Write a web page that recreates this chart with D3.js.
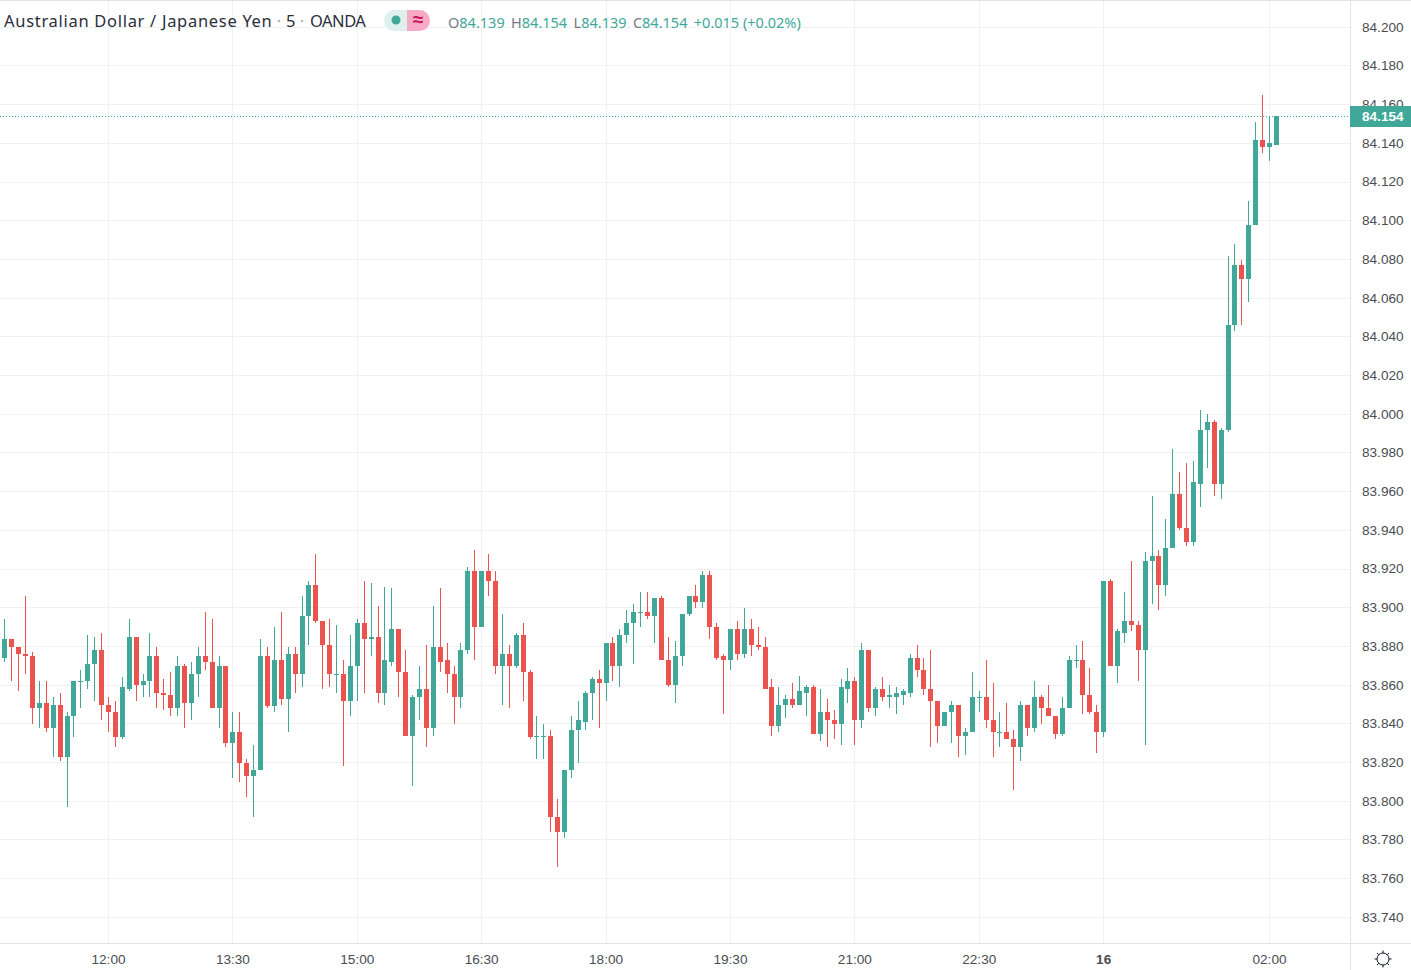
<!DOCTYPE html>
<html>
<head>
<meta charset="utf-8">
<script src="https://d3js.org/d3.v7.min.js"></script>
<style>
    html, body { margin: 0; padding: 0; background: #fff; }
    svg { display: block; }
    text { font-family: "Liberation Sans", Arial, sans-serif; }
</style>
</head>
<body>
<svg id="chart" width="1411" height="970"></svg>
<script>
// -------------------- DATA -------------------- //
const opens = [
    83.882,83.874,83.884,83.880,83.876,83.875,83.848,83.851,83.838,83.850,83.823,83.844,83.862,83.862,83.871,83.878,83.850,83.846,83.833,83.858,
    83.885,83.860,83.862,83.875,83.856,83.855,83.848,83.870,83.851,83.866,83.875,83.872,83.848,83.870,83.830,83.836,83.820,83.813,83.816,83.875,
    83.849,83.873,83.853,83.876,83.866,83.896,83.912,83.893,83.881,83.866,83.866,83.852,83.870,83.892,83.884,83.885,83.856,83.872,83.889,83.867,
    83.834,83.854,83.858,83.838,83.880,83.873,83.866,83.854,83.878,83.919,83.890,83.919,83.914,83.870,83.876,83.870,83.886,83.867,83.833,83.834,
    83.834,83.792,83.784,83.816,83.837,83.841,83.856,83.863,83.861,83.882,83.870,83.886,83.892,83.898,83.898,83.896,83.905,83.873,83.860,83.875,
    83.897,83.906,83.903,83.917,83.890,83.875,83.873,83.889,83.876,83.889,83.881,83.880,83.859,83.839,83.850,83.853,83.850,83.856,83.859,83.835,
    83.846,83.842,83.840,83.858,83.862,83.842,83.878,83.848,83.858,83.854,83.854,83.855,83.856,83.874,83.868,83.858,83.852,83.839,83.846,83.850,
    83.834,83.836,83.854,83.854,83.842,83.836,83.836,83.832,83.828,83.850,83.838,83.854,83.848,83.844,83.835,83.848,83.873,83.873,83.855,83.846,
    83.836,83.914,83.870,83.887,83.893,83.891,83.878,83.924,83.927,83.912,83.931,83.959,83.941,83.934,83.964,83.992,83.996,83.964,83.992,84.046,
    84.077,84.070,84.098,84.142,84.138,84.139
];
const highs = [
    83.882,83.894,83.884,83.880,83.906,83.877,83.862,83.862,83.854,83.856,83.846,83.862,83.868,83.886,83.885,83.887,83.854,83.852,83.864,83.894,
    83.885,83.866,83.887,83.880,83.863,83.867,83.875,83.871,83.872,83.880,83.898,83.894,83.875,83.870,83.846,83.846,83.822,83.829,83.884,83.880,
    83.890,83.898,83.880,83.880,83.906,83.914,83.928,83.893,83.894,83.891,83.873,83.886,83.894,83.914,83.913,83.901,83.911,83.910,83.889,83.878,
    83.855,83.870,83.881,83.901,83.910,83.882,83.870,83.882,83.921,83.930,83.919,83.928,83.919,83.897,83.881,83.887,83.892,83.868,83.844,83.840,
    83.837,83.801,83.816,83.844,83.852,83.857,83.864,83.868,83.882,83.885,83.889,83.899,83.902,83.908,83.908,83.905,83.906,83.885,83.883,83.897,
    83.906,83.912,83.919,83.919,83.892,83.876,83.889,83.893,83.900,83.894,83.890,83.885,83.863,83.859,83.855,83.861,83.865,83.860,83.860,83.858,
    83.853,83.847,83.863,83.869,83.864,83.882,83.878,83.859,83.864,83.860,83.859,83.858,83.876,83.881,83.874,83.878,83.852,83.846,83.852,83.850,
    83.838,83.867,83.857,83.873,83.861,83.846,83.851,83.837,83.852,83.850,83.862,83.855,83.860,83.844,83.854,83.875,83.881,83.883,83.869,83.850,
    83.914,83.915,83.889,83.908,83.924,83.893,83.929,83.958,83.930,83.946,83.982,83.970,83.975,83.976,84.002,84.000,83.997,83.993,84.082,84.088,
    84.080,84.110,84.151,84.165,84.154,84.154
];
const lows = [
    83.872,83.872,83.862,83.857,83.866,83.840,83.838,83.836,83.823,83.821,83.797,83.833,83.848,83.858,83.852,83.842,83.836,83.828,83.832,83.857,
    83.852,83.854,83.854,83.848,83.847,83.844,83.844,83.838,83.842,83.854,83.868,83.848,83.838,83.828,83.812,83.810,83.802,83.792,83.816,83.848,
    83.846,83.850,83.836,83.856,83.859,83.881,83.892,83.858,83.859,83.856,83.818,83.844,83.852,83.856,83.875,83.851,83.850,83.870,83.854,83.834,
    83.808,83.842,83.828,83.834,83.867,83.856,83.840,83.848,83.876,83.873,83.890,83.906,83.866,83.850,83.848,83.869,83.852,83.832,83.822,83.822,
    83.784,83.766,83.781,83.812,83.820,83.837,83.842,83.838,83.852,83.862,83.859,83.882,83.871,83.890,83.894,83.882,83.873,83.859,83.851,83.870,
    83.896,83.900,83.900,83.884,83.873,83.845,83.868,83.873,83.874,83.875,83.878,83.858,83.834,83.836,83.843,83.848,83.850,83.844,83.835,83.831,
    83.828,83.832,83.829,83.851,83.829,83.838,83.846,83.844,83.852,83.848,83.845,83.850,83.854,83.864,83.855,83.828,83.830,83.839,83.830,83.823,
    83.824,83.836,83.846,83.838,83.823,83.828,83.832,83.806,83.821,83.834,83.836,83.840,83.844,83.832,83.834,83.848,83.869,83.845,83.845,83.825,
    83.833,83.870,83.861,83.882,83.888,83.862,83.829,83.902,83.899,83.906,83.931,83.940,83.932,83.932,83.952,83.972,83.958,83.956,83.991,84.043,
    84.046,84.058,84.098,84.135,84.131,84.139
];
const closes = [
    83.874,83.884,83.880,83.876,83.875,83.848,83.851,83.838,83.850,83.823,83.844,83.862,83.862,83.871,83.878,83.850,83.846,83.833,83.859,83.885,
    83.860,83.862,83.875,83.856,83.855,83.848,83.870,83.851,83.866,83.875,83.872,83.848,83.870,83.830,83.836,83.820,83.813,83.816,83.875,83.849,
    83.873,83.853,83.876,83.866,83.896,83.912,83.893,83.881,83.866,83.866,83.852,83.870,83.892,83.884,83.885,83.856,83.873,83.889,83.867,83.834,
    83.854,83.858,83.838,83.880,83.872,83.866,83.854,83.878,83.919,83.890,83.919,83.914,83.870,83.876,83.870,83.886,83.867,83.833,83.834,83.834,
    83.792,83.784,83.816,83.837,83.842,83.856,83.863,83.861,83.882,83.870,83.886,83.892,83.898,83.898,83.896,83.905,83.873,83.860,83.875,83.897,
    83.906,83.903,83.917,83.890,83.874,83.873,83.889,83.876,83.889,83.881,83.880,83.858,83.839,83.850,83.853,83.850,83.857,83.859,83.835,83.846,
    83.842,83.840,83.859,83.862,83.842,83.878,83.848,83.858,83.854,83.855,83.856,83.857,83.874,83.868,83.858,83.852,83.839,83.846,83.850,83.834,
    83.836,83.854,83.854,83.842,83.836,83.836,83.832,83.828,83.850,83.838,83.854,83.848,83.844,83.835,83.848,83.873,83.873,83.855,83.846,83.836,
    83.914,83.870,83.888,83.893,83.891,83.878,83.924,83.927,83.912,83.931,83.959,83.941,83.934,83.965,83.992,83.996,83.964,83.992,84.046,84.077,
    84.070,84.098,84.142,84.138,84.140,84.154
];

// bar index of each time label, 5 minute bars starting 10:40
const timeTickBars = [16, 34, 52, 70, 88, 106, 124, 142, 160, 184];
const timeTickLabels = ["12:00", "13:30", "15:00", "16:30", "18:00", "19:30", "21:00", "22:30", "16", "02:00"];
const priceTicks = [84.200, 84.180, 84.160, 84.140, 84.120, 84.100, 84.080, 84.060, 84.040, 84.020, 84.000,
    83.980, 83.960, 83.940, 83.920, 83.900, 83.880, 83.860, 83.840, 83.820, 83.800, 83.780, 83.760, 83.740];
const lastPrice = 84.154;
const titleParts = ["Australian Dollar / Japanese Yen", "5", "OANDA"];
const legendItems = [["O", "84.139"], ["H", "84.154"], ["L", "84.139"], ["C", "84.154"]];
const legendChange = "+0.015 (+0.02%)";

// -------------------- UI SETUP -------------------- //
const PANE_W = 1350, PANE_H = 943;
const UP = "#41a899", DOWN = "#ea534e";
const GRID = "#f0f1f4", BORDER = "#e0e3e8", AXIS_TEXT = "#4a4d52", TITLE = "#2a2e39", MUTED = "#787b86";

let svg = d3.select("#chart");

// 84.000 sits at y=414.3, one price unit is 1935px
let y = d3.scaleLinear().domain([84, 83]).range([414.3, 414.3 + 1935]);
let x = d3.scaleLinear().domain([16, 184]).range([108, 1269]);

// -------------------- GRID -------------------- //
let grid = svg.append("g").attr("shape-rendering", "crispEdges");
grid.selectAll("line.h").data(priceTicks).join("line").attr("class", "h")
    .attr("x1", 0).attr("x2", PANE_W)
    .attr("y1", d => Math.floor(y(d)) + 0.5).attr("y2", d => Math.floor(y(d)) + 0.5)
    .attr("stroke", GRID);
grid.selectAll("line.v").data(timeTickBars).join("line").attr("class", "v")
    .attr("y1", 0).attr("y2", PANE_H)
    .attr("x1", d => Math.round(x(d)) + 0.5).attr("x2", d => Math.round(x(d)) + 0.5)
    .attr("stroke", GRID);

// -------------------- CANDLES -------------------- //
let candles = svg.append("g").attr("shape-rendering", "crispEdges");
opens.forEach((o, i) => {
    let col = closes[i] >= o ? UP : DOWN;
    let cx = Math.round(x(i));
    let top = Math.round(y(Math.max(o, closes[i])));
    let bot = Math.round(y(Math.min(o, closes[i])));
    candles.append("rect").attr("x", cx).attr("width", 1)
        .attr("y", Math.round(y(highs[i]))).attr("height", Math.max(1, Math.round(y(lows[i])) - Math.round(y(highs[i]))))
        .attr("fill", col);
    candles.append("rect").attr("x", cx - 2).attr("width", 5)
        .attr("y", top).attr("height", Math.max(1, bot - top))
        .attr("fill", col);
});

// -------------------- LAST PRICE LINE -------------------- //
svg.append("line")
    .attr("x1", 0).attr("x2", PANE_W)
    .attr("y1", Math.round(y(lastPrice)) + 0.5).attr("y2", Math.round(y(lastPrice)) + 0.5)
    .attr("stroke", UP).attr("stroke-dasharray", "1 2").attr("shape-rendering", "crispEdges");

// -------------------- AXES -------------------- //
let yAxis = d3.axisRight(y).tickValues(priceTicks).tickFormat(d3.format(".3f")).tickSize(0).tickPadding(12);
let gy = svg.append("g").attr("transform", `translate(${PANE_W},-0.5)`).call(yAxis);
gy.select(".domain").remove();
gy.selectAll("text").attr("fill", AXIS_TEXT).style("font-size", "13.6px");

let xAxis = d3.axisBottom(x).tickValues(timeTickBars)
    .tickFormat((d, i) => timeTickLabels[i]).tickSize(0).tickPadding(11);
let gx = svg.append("g").attr("transform", `translate(0,${PANE_H})`).call(xAxis);
gx.select(".domain").remove();
gx.selectAll("text").attr("fill", AXIS_TEXT).style("font-size", "13.6px")
    .style("font-weight", d => d === 160 ? "bold" : null);

// pane borders
let borders = svg.append("g").attr("stroke", BORDER).attr("shape-rendering", "crispEdges");
borders.append("line").attr("x1", 0).attr("x2", 1411).attr("y1", 0.5).attr("y2", 0.5);
borders.append("line").attr("x1", 0).attr("x2", 1411).attr("y1", PANE_H + 0.5).attr("y2", PANE_H + 0.5);
borders.append("line").attr("x1", PANE_W + 0.5).attr("x2", PANE_W + 0.5).attr("y1", 0).attr("y2", 970);

// last price tag
svg.append("rect").attr("x", PANE_W).attr("y", Math.round(y(lastPrice)) - 10).attr("width", 61).attr("height", 21).attr("fill", UP);
svg.append("text").attr("x", 1362).attr("y", Math.round(y(lastPrice)) + 5)
    .attr("fill", "#fff").style("font-size", "13.6px").style("font-weight", "bold").text(d3.format(".3f")(lastPrice));

// -------------------- LEGEND -------------------- //
let titleFont = sel => sel.attr("y", 27).attr("fill", TITLE)
    .style("font-family", "'Noto Sans'").style("font-size", "16.5px");
svg.append("text").attr("x", 4).call(titleFont).style("letter-spacing", "0.7px").text(titleParts[0]);
svg.append("text").attr("x", 286).call(titleFont).text(titleParts[1]);
svg.append("text").attr("x", 310).call(titleFont).style("letter-spacing", "-0.5px").text(titleParts[2]);
svg.selectAll("circle.sep").data([279, 302]).join("circle").attr("class", "sep")
    .attr("cx", d => d).attr("cy", 21).attr("r", 1.3).attr("fill", "#b2b5be");

svg.append("path").attr("d", "M394.5,10 h12.5 v21 h-12.5 a10.5,10.5 0 0 1 0,-21 z").attr("fill", "#deefec");
svg.append("path").attr("d", "M407,10 h12.5 a10.5,10.5 0 0 1 0,21 h-12.5 z").attr("fill", "#f7a9c6");
svg.append("circle").attr("cx", 396).attr("cy", 20).attr("r", 4.5).attr("fill", UP);
svg.append("text").attr("x", 418).attr("y", 26).attr("text-anchor", "middle").attr("fill", "#c2185b")
    .style("font-size", "19px").style("font-weight", "bold").text("≈");

let legend = svg.append("text").attr("x", 448).attr("y", 28).style("font-family", "'Noto Sans'").style("font-size", "14.5px");
legendItems.forEach((d, i) => {
    legend.append("tspan").attr("fill", MUTED).attr("dx", i ? 2.6 : 0).text(d[0]);
    legend.append("tspan").attr("fill", UP).text(d[1] + " ");
});
legend.append("tspan").attr("fill", UP).attr("dx", 2.6).text(legendChange);

// settings gear
let gear = svg.append("g").attr("transform", "translate(1383,959)").attr("fill", "none").attr("stroke", "#131722");
gear.append("circle").attr("r", 6);
d3.range(8).forEach(k => {
    let a = k * Math.PI / 4;
    gear.append("line").attr("x1", 6 * Math.cos(a)).attr("y1", 6 * Math.sin(a))
        .attr("x2", 8.5 * Math.cos(a)).attr("y2", 8.5 * Math.sin(a));
});
</script>
</body>
</html>
